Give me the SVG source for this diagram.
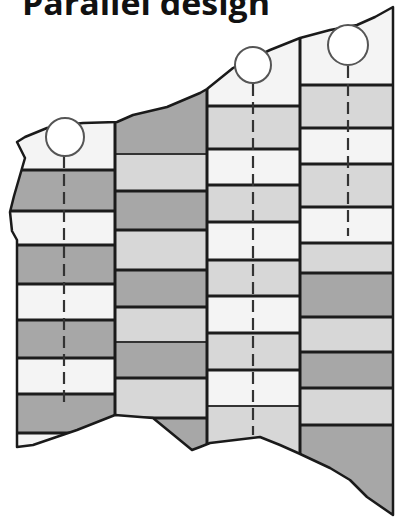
<svg xmlns="http://www.w3.org/2000/svg" width="396" height="519" viewBox="0 0 396 519">
<style>
.w{fill:#f4f4f4}
.lg{fill:#d7d7d7}
.dg{fill:#a7a7a7}
.row{stroke:#1c1c1c;stroke-width:3;fill:none}
.thin{stroke:#333;stroke-width:2;fill:none}
.div{stroke:#1a1a1a;stroke-width:3;fill:none}
.dash{stroke:#333;stroke-width:2.2;stroke-dasharray:12 6;fill:none}
.hole{fill:#fff;stroke:#555;stroke-width:2}
.edge{fill:none;stroke:#1a1a1a;stroke-width:2.5;stroke-linejoin:round}
.title{font-family:"Open Sans","Noto Sans",sans-serif;font-weight:bold;font-size:32px;fill:#111}
</style>
<defs>
<clipPath id="shape">
<path id="outline" d="M17,447 L17,240 L12,231 L10,212 L14,196 L25,158 L20,148 L17,142 L25,137 L47,128 L65,125 L83,123 L117,122 L133,115 L167,107 L200,93 L207,89 L233,68 L253,58 L270,50 L300,38 L330,30 L357,25 L375,17 L393,7 L393,515 L367,497 L350,480 L330,468 L298,453 L280,445 L260,437 L235,440 L210,443 L200,447 L192,450 L153,418 L115,415 L77,430 L33,445 Z"/>
</clipPath>
</defs>
<rect width="396" height="519" fill="#fff"/>
<text class="title" x="22" y="15" textLength="248" lengthAdjust="spacingAndGlyphs">Parallel design</text>
<g clip-path="url(#shape)">
<g id="column1">
<rect class="w" x="0" y="100" width="115" height="70"/>
<rect class="dg" x="0" y="170" width="115" height="41"/>
<rect class="w" x="0" y="211" width="115" height="34"/>
<rect class="dg" x="0" y="245" width="115" height="39"/>
<rect class="w" x="0" y="284" width="115" height="36"/>
<rect class="dg" x="0" y="320" width="115" height="38"/>
<rect class="w" x="0" y="358" width="115" height="36"/>
<rect class="dg" x="0" y="394" width="115" height="39"/>
<rect class="w" x="0" y="433" width="115" height="30"/>
<path class="row" d="M0,170H115M0,211H115M0,245H115M0,284H115M0,320H115M0,358H115M0,394H115M0,433H115"/>
<path class="dash" d="M64,156V405"/>
</g>
<g id="column2">
<rect class="dg" x="115" y="80" width="92" height="74"/>
<rect class="lg" x="115" y="154" width="92" height="37"/>
<rect class="dg" x="115" y="191" width="92" height="39"/>
<rect class="lg" x="115" y="230" width="92" height="40"/>
<rect class="dg" x="115" y="270" width="92" height="37"/>
<rect class="lg" x="115" y="307" width="92" height="35"/>
<rect class="dg" x="115" y="342" width="92" height="36"/>
<rect class="lg" x="115" y="378" width="92" height="40"/>
<rect class="dg" x="115" y="418" width="92" height="40"/>
<path class="thin" d="M115,154H207M115,342H207"/>
<path class="row" d="M115,191H207M115,230H207M115,270H207M115,307H207M115,378H207M115,418H207"/>
</g>
<g id="column3">
<rect class="w" x="207" y="30" width="93" height="76"/>
<rect class="lg" x="207" y="106" width="93" height="43"/>
<rect class="w" x="207" y="149" width="93" height="36"/>
<rect class="lg" x="207" y="185" width="93" height="37"/>
<rect class="w" x="207" y="222" width="93" height="38"/>
<rect class="lg" x="207" y="260" width="93" height="36"/>
<rect class="w" x="207" y="296" width="93" height="37"/>
<rect class="lg" x="207" y="333" width="93" height="37"/>
<rect class="w" x="207" y="370" width="93" height="36"/>
<rect class="lg" x="207" y="406" width="93" height="60"/>
<path class="row" d="M207,106H300M207,149H300M207,185H300M207,222H300M207,260H300M207,296H300M207,333H300M207,370H300"/>
<path class="thin" d="M207,406H300"/>
<path class="dash" d="M253,84V435"/>
</g>
<g id="column4">
<rect class="w" x="300" y="0" width="96" height="85"/>
<rect class="lg" x="300" y="85" width="96" height="43"/>
<rect class="w" x="300" y="128" width="96" height="36"/>
<rect class="lg" x="300" y="164" width="96" height="43"/>
<rect class="w" x="300" y="207" width="96" height="36"/>
<rect class="lg" x="300" y="243" width="96" height="30"/>
<rect class="dg" x="300" y="273" width="96" height="44"/>
<rect class="lg" x="300" y="317" width="96" height="35"/>
<rect class="dg" x="300" y="352" width="96" height="36"/>
<rect class="lg" x="300" y="388" width="96" height="37"/>
<rect class="dg" x="300" y="425" width="96" height="94"/>
<path class="row" d="M300,85H396M300,128H396M300,164H396M300,207H396M300,243H396M300,273H396M300,317H396M300,352H396M300,388H396M300,425H396"/>
<path class="dash" d="M348,66V236"/>
</g>
<path class="div" d="M115,110V420M207,80V450M300,30V460"/>
</g>
<use href="#outline" class="edge"/>
<g id="holes">
<circle class="hole" cx="65" cy="137" r="19"/>
<circle class="hole" cx="253" cy="65" r="18"/>
<circle class="hole" cx="348" cy="45" r="20"/>
</g>
</svg>
